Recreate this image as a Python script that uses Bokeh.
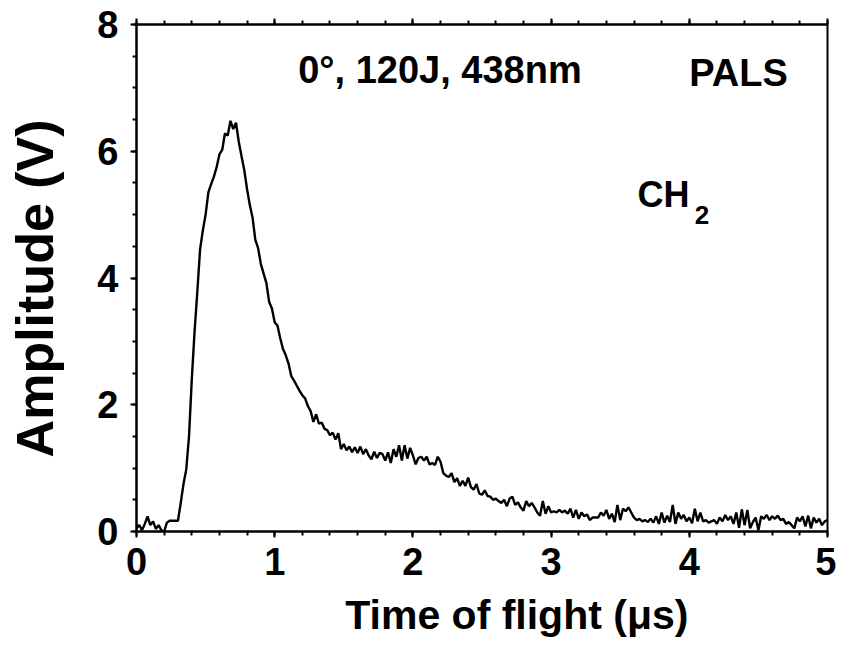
from bokeh.plotting import figure
from bokeh.models import LinearAxis, Range1d, Label, SingleIntervalTicker
from bokeh.embed import file_html
from bokeh.resources import INLINE

amp = [
    # 0.00 - 0.30
    0.05, 0.10, 0.02, 0.12, 0.24, 0.10, 0.16, 0.04, 0.10, 0.02, 0.00, 0.14, 0.17, 0.17, 0.17, 0.17,
    # 0.32 - 1.00
    0.45, 0.75, 0.98, 1.50, 2.40, 3.15, 3.78, 4.45, 4.75, 5.00,
    5.35, 5.48, 5.60, 5.75, 5.95, 6.02, 6.28, 6.25, 6.48, 6.35,
    6.45, 6.15, 5.92, 5.70, 5.40, 5.15, 4.95, 4.60, 4.47, 4.22,
    4.07, 3.92, 3.62, 3.52, 3.30,
    # 1.02 - 2.00
    3.25, 3.05, 2.88, 2.78, 2.65, 2.45, 2.38, 2.30, 2.22, 2.15,
    2.10, 1.98, 1.90, 1.73, 1.85, 1.70, 1.72, 1.62, 1.60, 1.52,
    1.56, 1.45, 1.55, 1.30, 1.38, 1.28, 1.34, 1.25, 1.33, 1.24,
    1.34, 1.22, 1.30, 1.20, 1.14, 1.26, 1.16, 1.24, 1.22, 1.12,
    1.25, 1.08, 1.30, 1.18, 1.36, 1.12, 1.36, 1.15, 1.32, 1.20,
    # 2.02 - 3.00
    1.06, 1.16, 1.18, 1.12, 1.18, 1.06, 1.08, 1.05, 1.18, 1.10,
    0.92, 0.88, 0.86, 0.92, 0.78, 0.84, 0.72, 0.80, 0.72, 0.85,
    0.70, 0.66, 0.75, 0.60, 0.58, 0.65, 0.56, 0.55, 0.50, 0.52,
    0.48, 0.45, 0.50, 0.40, 0.52, 0.55, 0.42, 0.46, 0.38, 0.33,
    0.48, 0.40, 0.45, 0.38, 0.30, 0.25, 0.48, 0.28, 0.40, 0.30,
    # 3.02 - 4.00
    0.32, 0.30, 0.34, 0.30, 0.33, 0.28, 0.36, 0.22, 0.34, 0.20,
    0.30, 0.24, 0.27, 0.18, 0.22, 0.22, 0.22, 0.30, 0.25, 0.34,
    0.20, 0.28, 0.15, 0.42, 0.18, 0.36, 0.32, 0.38, 0.30, 0.22,
    0.18, 0.20, 0.16, 0.18, 0.15, 0.20, 0.14, 0.24, 0.12, 0.30,
    0.14, 0.25, 0.15, 0.42, 0.12, 0.30, 0.20, 0.26, 0.16, 0.22,
    # 4.02 - 5.00
    0.13, 0.36, 0.16, 0.30, 0.16, 0.18, 0.14, 0.16, 0.18, 0.12,
    0.22, 0.16, 0.26, 0.18, 0.24, 0.12, 0.30, 0.06, 0.35, 0.10,
    0.34, 0.05, 0.15, 0.22, 0.02, 0.24, 0.20, 0.26, 0.18, 0.24,
    0.20, 0.25, 0.18, 0.20, 0.12, 0.15, 0.10, 0.05, 0.22, 0.16,
    0.24, 0.08, 0.25, 0.05, 0.22, 0.14, 0.20, 0.10, 0.16, 0.18,
]
dt = 0.02
time_us = [round(i * dt, 2) for i in range(len(amp))]

x_title = "Time of flight (μs)"
y_title = "Amplitude (V)"

FONT = "Liberation Sans"

p = figure(width=836, height=640, x_range=Range1d(0, 5), y_range=Range1d(0, 8),
           output_backend="svg", toolbar_location=None,
           min_border_left=136, min_border_right=9, min_border_top=24, min_border_bottom=108)
p.grid.visible = False
p.outline_line_color = "black"
p.outline_line_width = 2
p.background_fill_color = "white"
p.border_fill_color = "white"

p.line(time_us, amp, line_color="black", line_width=2.4)

def style_axis(ax):
    ax.axis_line_width = 2
    ax.axis_line_color = "black"
    ax.major_tick_line_width = 2
    ax.minor_tick_line_width = 2
    ax.major_tick_in = 0
    ax.major_tick_out = 6
    ax.minor_tick_in = 0
    ax.minor_tick_out = 4
    ax.major_label_text_font = FONT
    ax.major_label_text_font_style = "bold"
    ax.major_label_text_font_size = "38px"
    ax.major_label_text_color = "black"
    ax.axis_label_text_font = FONT
    ax.axis_label_text_font_style = "bold"
    ax.axis_label_text_color = "black"

xa = p.xaxis[0]
xa.ticker = SingleIntervalTicker(interval=1, num_minor_ticks=5)
style_axis(xa)
# leading em/en/thin spaces shift the centred title right, as in the reference
xa.axis_label = "\u2003\u2002\u2009" + x_title
xa.axis_label_text_font_size = "41px"
xa.major_label_standoff = 10
xa.axis_label_standoff = 14

ya = p.yaxis[0]
ya.ticker = SingleIntervalTicker(interval=2, num_minor_ticks=4)
style_axis(ya)
# trailing thin spaces shift the centred title slightly downward
ya.axis_label = y_title + "\u2009\u2009"
ya.axis_label_text_font_size = "52px"
ya.major_label_standoff = 12
ya.axis_label_standoff = 30

top = LinearAxis(ticker=SingleIntervalTicker(interval=1, num_minor_ticks=5))
style_axis(top)
top.major_label_text_color = None
top.major_label_text_font_size = "1px"
p.add_layout(top, "above")

def add_text(x, y, t, size="38px"):
    p.add_layout(Label(x=x, y=y, text=t, text_font=FONT, text_font_style="bold",
                       text_font_size=size, text_color="black", text_baseline="alphabetic"))

add_text(1.17, 7.28, "0°, 120J, 438nm", size="38px")
add_text(4.00, 7.24, "PALS", size="38px")
add_text(3.625, 5.32, "CH", size="36px")
add_text(4.04, 5.00, "2", size="26px")

open("out.html", "w").write(file_html(p, INLINE))
